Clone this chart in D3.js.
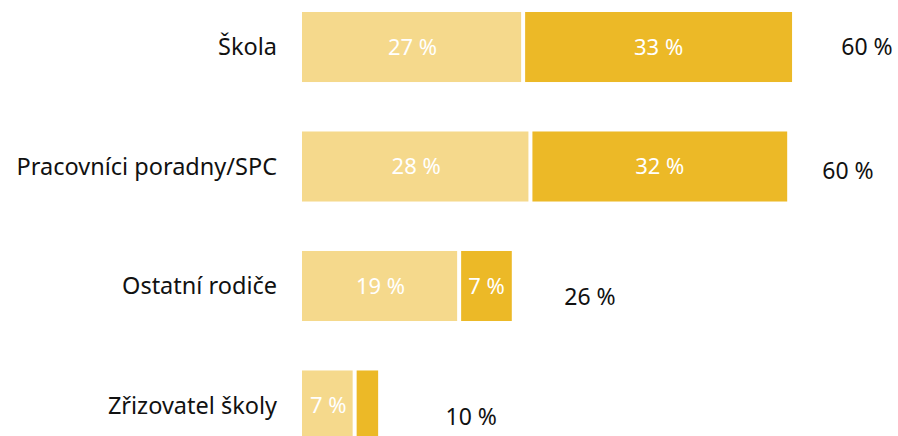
<!DOCTYPE html>
<html>
<head>
<meta charset="utf-8">
<script src="https://cdn.jsdelivr.net/npm/d3@7"></script>
<style>
  body { margin: 0; background: #fff; }
  svg { display: block; font-family: "Noto Sans", sans-serif; }
</style>
</head>
<body>
<div id="graf"></div>
<script>
// kategorie a hodnoty (v %)
const kategorie = ["Škola", "Pracovníci poradny/SPC", "Ostatní rodiče", "Zřizovatel školy"];
const castecne = [27.3, 28.2, 19.4, 6.5];   // světlá část
const uplne = [33.2, 31.7, 6.5, 2.9];       // tmavá část
const celkem = [60, 60, 26, 10];            // popisky součtu
const mezera = [18.5, 15, 19.3, 23];        // neviditelná řada, na jejímž středu je součet
const posunSouctu = [0, 4, 11, 11];         // svislý posun popisku součtu (px)

const width = 898, height = 436;

const svg = d3.select("#graf").append("svg")
    .attr("width", width)
    .attr("height", height);

const x = d3.scaleLinear()
    .domain([0, 100])
    .range([302, 302 + 810]);

const y = d3.scaleBand()
    .domain(kategorie)
    .range([12, 440.5])
    .paddingInner(0.414)
    .paddingOuter(0);

const radky = kategorie.map((k, i) => ({
    k,
    a: castecne[i],
    b: uplne[i],
    soucet: celkem[i],
    mezera: mezera[i],
    dy: posunSouctu[i]
}));

const g = svg.selectAll(".radek")
    .data(radky)
    .enter().append("g")
    .attr("class", "radek");

// světlý segment
g.append("rect")
    .attr("x", x(0))
    .attr("y", d => y(d.k))
    .attr("width", d => x(d.a) - x(0) - 2)
    .attr("height", y.bandwidth())
    .attr("fill", "#f5d98c");

// tmavý segment
g.append("rect")
    .attr("x", d => x(d.a) + 2)
    .attr("y", d => y(d.k))
    .attr("width", d => x(d.a + d.b) - x(d.a) - 2)
    .attr("height", y.bandwidth())
    .attr("fill", "#ecb927");

// popisky uvnitř
g.append("text")
    .attr("x", d => (x(0) + x(d.a)) / 2)
    .attr("y", d => y(d.k) + y.bandwidth() / 2)
    .attr("dy", "0.35em")
    .attr("text-anchor", "middle")
    .attr("fill", "#fff")
    .style("font-size", "22px")
    .text(d => Math.round(d.a) + " %");

g.filter(d => x(d.a + d.b) - x(d.a) > 30).append("text")
    .attr("x", d => (x(d.a) + x(d.a + d.b)) / 2 + 1)
    .attr("y", d => y(d.k) + y.bandwidth() / 2)
    .attr("dy", "0.35em")
    .attr("text-anchor", "middle")
    .attr("fill", "#fff")
    .style("font-size", "22px")
    .text(d => Math.round(d.b) + " %");

// součet vpravo
g.append("text")
    .attr("x", d => x(d.a + d.b + d.mezera / 2))
    .attr("y", d => y(d.k) + y.bandwidth() / 2 + d.dy)
    .attr("dy", "0.35em")
    .attr("text-anchor", "middle")
    .attr("fill", "#111")
    .style("font-size", "23px")
    .text(d => d.soucet + " %");

// názvy kategorií
g.append("text")
    .attr("x", 277)
    .attr("y", d => y(d.k) + y.bandwidth() / 2)
    .attr("dy", "0.35em")
    .attr("text-anchor", "end")
    .attr("fill", "#111")
    .style("font-size", "23.5px")
    .text(d => d.k);
</script>
</body>
</html>
